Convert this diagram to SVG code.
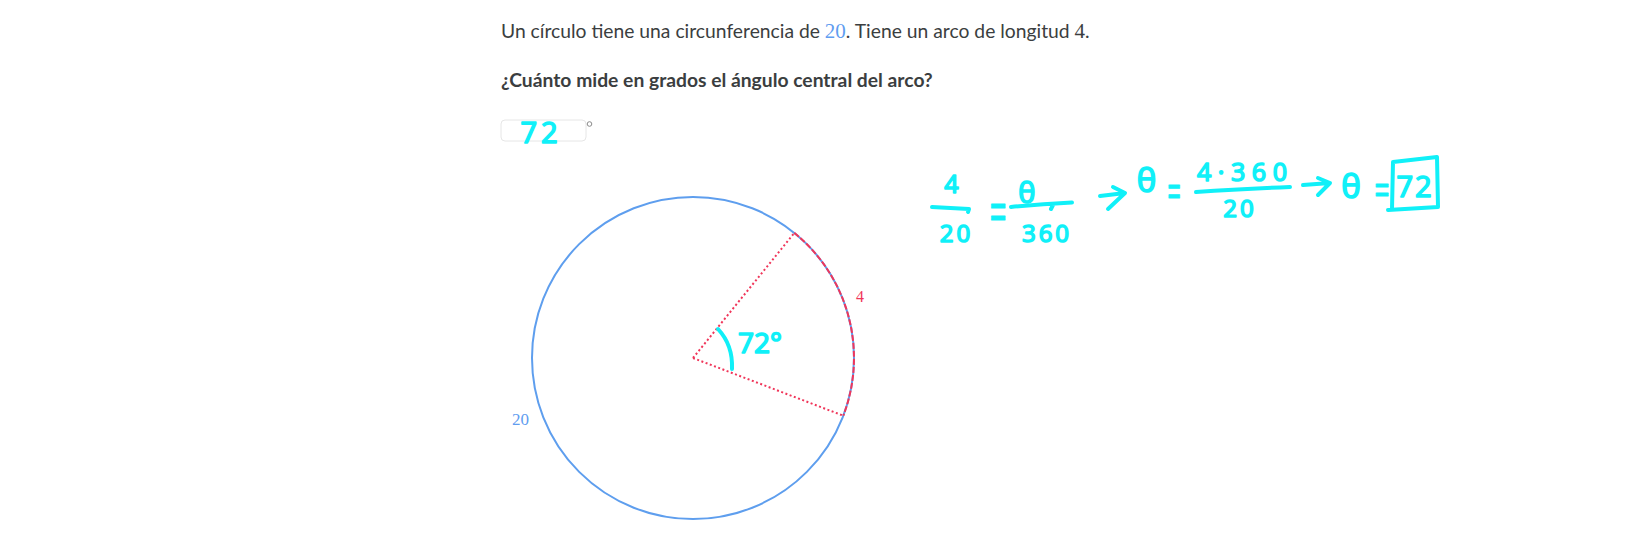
<svg xmlns="http://www.w3.org/2000/svg" width="1630" height="546" viewBox="0 0 1630 546">
<style>
.q{font-family:Lato,"Liberation Sans",sans-serif;font-size:19.3px;fill:#3b3e40}
.qb{font-weight:bold}
.m{font-family:"Liberation Serif",serif}
.hw{font-family:"Open Sans","DejaVu Sans",sans-serif;fill:#10f0f8;stroke:#10f0f8;stroke-width:1.6;stroke-linejoin:round;text-anchor:middle}
.eq{font-size:30px;stroke-width:0.6}
.hs{fill:none;stroke:#10f0f8;stroke-width:4;stroke-linecap:round;stroke-linejoin:round}
.rad{fill:none;stroke:#f0365a;stroke-width:2;stroke-dasharray:2 2.5}
</style>
<rect width="1630" height="546" fill="#ffffff"/>
<g id="question">
<text class="q" x="501" y="38">Un círculo tiene una circunferencia de <tspan class="m" fill="#5f9df0" font-size="21">20</tspan>. Tiene un arco de longitud <tspan class="m" font-size="21">4</tspan>.</text>
<text class="q qb" x="501" y="87">¿Cuánto mide en grados el ángulo central del arco?</text>
</g>
<g id="answer-input">
<rect x="501" y="120" width="85" height="21" rx="4" fill="#ffffff" stroke="#e6e6e6" stroke-width="1"/>
<circle cx="589.5" cy="124" r="2.3" fill="none" stroke="#8a8a8a" stroke-width="1"/>
<text class="hw" x="541" y="143" font-size="29" letter-spacing="4">72</text>
</g>
<g id="circle">
<circle cx="693" cy="358" r="161" fill="none" stroke="#5e9eee" stroke-width="2"/>
<path d="M794.3 232.9 A161 161 0 0 1 843.3 415.7" fill="none" stroke="#f0365a" stroke-width="2" stroke-dasharray="6 2"/>
<text class="m" x="512" y="425" font-size="17" fill="#5f9df0">20</text>
<text class="m" x="856" y="302" font-size="16" fill="#f0365a">4</text>
</g>
<g id="connectors">
<path class="rad" d="M693 358 L794.3 232.9"/>
<path class="rad" d="M693 358 L843.3 415.7"/>
</g>
<g id="angle-note">
<path class="hs" d="M718 329 Q733 345 732 369"/>
<text class="hw" x="760" y="353" font-size="28">72°</text>
</g>
<g id="equation">
<text class="hw" x="951.5" y="193" font-size="25">4</text>
<path class="hs" d="M932 207 Q950 208 969 209 L968 212"/>
<text class="hw" x="956.5" y="242" font-size="24" letter-spacing="3">20</text>
<text class="hw eq" transform="translate(998 233) scale(1 2)">=</text>
<text class="hw" x="1026.7" y="203" font-size="29">θ</text>
<path class="hs" d="M1011 207 Q1040 204 1072 202.5 M1053 205 L1051 209"/>
<text class="hw" x="1047" y="242" font-size="24" letter-spacing="3">360</text>
<path class="hs" d="M1100 196 L1125 193 M1113 187 L1125 193 L1108 209"/>
<text class="hw" x="1146.5" y="192" font-size="33">θ</text>
<text class="hw eq" transform="translate(1174 208) scale(0.8 1.6)">=</text>
<text class="hw" x="1242" y="181" font-size="25" textLength="90" lengthAdjust="spacing">4·360</text>
<path class="hs" d="M1196 192 Q1240 189 1290 187"/>
<text class="hw" x="1240" y="217" font-size="24" letter-spacing="3">20</text>
<path class="hs" d="M1303 185 L1330 183 M1318 178 L1330 183 L1318 195"/>
<text class="hw" x="1351" y="198" font-size="33">θ</text>
<text class="hw eq" transform="translate(1382 206) scale(0.9 1.5)">=</text>
<path class="hs" d="M1393 162 L1437 157 L1438 207 L1388 210 M1393 162 L1392 209"/>
<text class="hw" x="1415" y="197" font-size="29" letter-spacing="2">72</text>
</g>
</svg>
